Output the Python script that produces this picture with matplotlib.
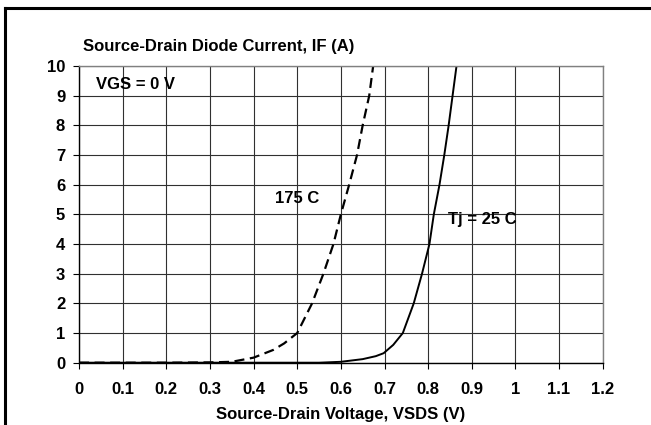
import matplotlib.pyplot as plt
from matplotlib.lines import Line2D

plt.rcParams['font.family'] = 'Liberation Sans'
plt.rcParams['font.weight'] = 'bold'

# 175 C curve (dashed)
v_175 = [0, 0.1, 0.2, 0.3, 0.35, 0.4, 0.445, 0.47, 0.5, 0.534, 0.56, 0.583, 0.6, 0.619, 0.637, 0.65, 0.665, 0.674]
i_175 = [0, 0, 0, 0.01, 0.03, 0.17, 0.43, 0.65, 1, 2, 3, 4, 5, 6, 7, 8, 9, 10]

# Tj = 25 C curve (solid)
v_25 = [0, 0.2, 0.4, 0.55, 0.6, 0.65, 0.68, 0.698, 0.72, 0.742, 0.767, 0.786, 0.803, 0.813, 0.826, 0.837, 0.847, 0.856, 0.865]
i_25 = [0, 0, 0, 0, 0.03, 0.12, 0.22, 0.32, 0.6, 1, 2, 3, 4, 5, 6, 7, 8, 9, 10]

x_ticks = [0, 0.1, 0.2, 0.3, 0.4, 0.5, 0.6, 0.7, 0.8, 0.9, 1, 1.1, 1.2]
x_labels = ['0', '0.1', '0.2', '0.3', '0.4', '0.5', '0.6', '0.7', '0.8', '0.9', '1', '1.1', '1.2']
y_ticks = list(range(0, 11))

fs = 12

fig = plt.figure(figsize=(6.51, 4.25), dpi=100)
ax = fig.add_axes([0.1214, 0.1466, 0.8044, 0.6981])

ax.plot(v_175, i_175, color='black', lw=1.6, dashes=(4.5, 2.5))
ax.plot(v_25, i_25, color='black', lw=1.4)

ax.set_xlim(0, 1.2)
ax.set_ylim(0, 10)
ax.set_xticks(x_ticks)
ax.set_xticklabels(x_labels)
ax.set_yticks(y_ticks)
ax.grid(True, color='#303030', lw=0.8)
ax.set_axisbelow(True)
ax.tick_params(direction='out', length=4, width=0.8, labelsize=fs, color='black')
ax.tick_params(axis='x', pad=10)
ax.tick_params(axis='y', pad=6)
for s in ['top', 'right']:
    ax.spines[s].set_color('#808080')
    ax.spines[s].set_linewidth(1.0)
for s in ['left', 'bottom']:
    ax.spines[s].set_color('black')
    ax.spines[s].set_linewidth(1.0)

ax.text(0.039, 9.38, 'VGS = 0 V', fontsize=fs, va='center', ha='left')
ax.text(0.45, 5.54, '175 C', fontsize=fs, va='center', ha='left')
ax.text(0.846, 4.84, 'Tj = 25 C', fontsize=fs, va='center', ha='left')

fig.text(83 / 651, 1 - 47 / 425, 'Source-Drain Diode Current, IF (A)', fontsize=fs, va='center', ha='left')
fig.text(341 / 651, 1 - 415 / 425, 'Source-Drain Voltage, VSDS (V)', fontsize=fs, va='center', ha='center')

# outer frame (top and left edges only)
fig.add_artist(Line2D([4.5 / 651, 1], [1 - 7.5 / 425, 1 - 7.5 / 425], color='black', lw=2.2, transform=fig.transFigure))
fig.add_artist(Line2D([4.5 / 651, 4.5 / 651], [0, 1 - 7.5 / 425], color='black', lw=2.2, transform=fig.transFigure))

fig.savefig('out.png', dpi=100)
